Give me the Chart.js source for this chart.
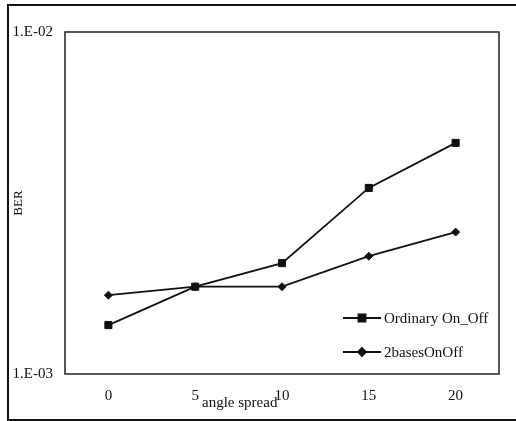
<!DOCTYPE html>
<html>
<head>
<meta charset="utf-8">
<script src="https://cdn.jsdelivr.net/npm/chart.js@4.4.0/dist/chart.umd.min.js"></script>
<style>
  html, body { margin: 0; padding: 0; background: #fff; }
  #wrap { position: relative; width: 516px; height: 421px; overflow: hidden; }
  #frame {
    position: absolute; left: 7px; top: 4px; width: 520px; height: 413px;
    border-left: 2px solid #111; border-top: 2px solid #111; border-bottom: 2px solid #111;
  }
  canvas { position: absolute; left: 0; top: 0; }
</style>
</head>
<body>
<div id="wrap">
  <div id="frame"></div>
  <canvas id="berChart" width="516" height="421"></canvas>
</div>
<script>
// Data
const angles = ['0', '5', '10', '15', '20'];
const ordinaryBER = [1.39e-3, 1.80e-3, 2.11e-3, 3.50e-3, 4.74e-3];
const twoBasesBER = [1.70e-3, 1.80e-3, 1.80e-3, 2.21e-3, 2.60e-3];
const seriesNames = ['Ordinary On_Off', '2basesOnOff'];
const yTickLabels = { '0.001': '1.E-03', '0.01': '1.E-02' };

const serif = '"Liberation Serif", "Times New Roman", serif';

// box round the plot area, the x title and the legend inside the plot
const extras = {
    id: 'extras',
    afterDraw(chart) {
        const ctx = chart.ctx;
        const a = chart.chartArea;
        ctx.save();
        ctx.strokeStyle = '#222';
        ctx.lineWidth = 1.5;
        ctx.strokeRect(a.left, a.top, a.right - a.left, a.bottom - a.top);

        ctx.fillStyle = '#111';
        ctx.font = '15px ' + serif;
        ctx.textBaseline = 'middle';
        ctx.textAlign = 'left';
        ctx.fillText('angle spread', a.left + 137, a.bottom + 29);

        // legend
        chart.data.datasets.forEach((ds, i) => {
            const y = a.bottom - 56 + i * 34;
            const x0 = a.right - 156;
            const x1 = a.right - 118;
            ctx.strokeStyle = '#111';
            ctx.lineWidth = 1.8;
            ctx.beginPath();
            ctx.moveTo(x0, y);
            ctx.lineTo(x1, y);
            ctx.stroke();
            Chart.helpers.drawPoint(ctx, {
                pointStyle: ds.pointStyle,
                radius: ds.pointRadius,
                borderWidth: 1
            }, (x0 + x1) / 2, y);
            ctx.fillStyle = '#111';
            ctx.fillText(ds.label, x1 + 3, y + 1);
        });
        ctx.restore();
    }
};

new Chart(document.getElementById('berChart'), {
    type: 'line',
    data: {
        labels: angles,
        datasets: [{
            label: seriesNames[0],
            data: ordinaryBER,
            borderColor: '#111',
            backgroundColor: '#111',
            borderWidth: 1.8,
            pointStyle: 'rect',
            pointRadius: 5,
            pointBorderWidth: 1,
            tension: 0
        }, {
            label: seriesNames[1],
            data: twoBasesBER,
            borderColor: '#111',
            backgroundColor: '#111',
            borderWidth: 1.8,
            pointStyle: 'rectRot',
            pointRadius: 4,
            pointBorderWidth: 1,
            tension: 0
        }]
    },
    options: {
        responsive: false,
        animation: false,
        layout: { padding: { left: 8, top: 32, right: 17, bottom: 0 } },
        plugins: { legend: { display: false }, tooltip: { enabled: false } },
        scales: {
            x: {
                type: 'category',
                offset: true,
                grid: { display: false, drawTicks: false },
                border: { display: false },
                ticks: { color: '#111', padding: 13, font: { family: serif, size: 15 } },
                afterFit: s => { s.height = 47; }
            },
            y: {
                type: 'logarithmic',
                min: 0.001,
                max: 0.01,
                grid: { display: false, drawTicks: false },
                border: { display: false },
                title: { display: true, text: 'BER', color: '#111', padding: { top: 3, bottom: 4 }, font: { family: serif, size: 13 } },
                ticks: {
                    color: '#111',
                    padding: 12,
                    font: { family: serif, size: 15 },
                    callback: v => yTickLabels[String(v)] || ''
                },
                afterFit: s => { s.width = 57; }
            }
        }
    },
    plugins: [extras]
});
</script>
</body>
</html>
